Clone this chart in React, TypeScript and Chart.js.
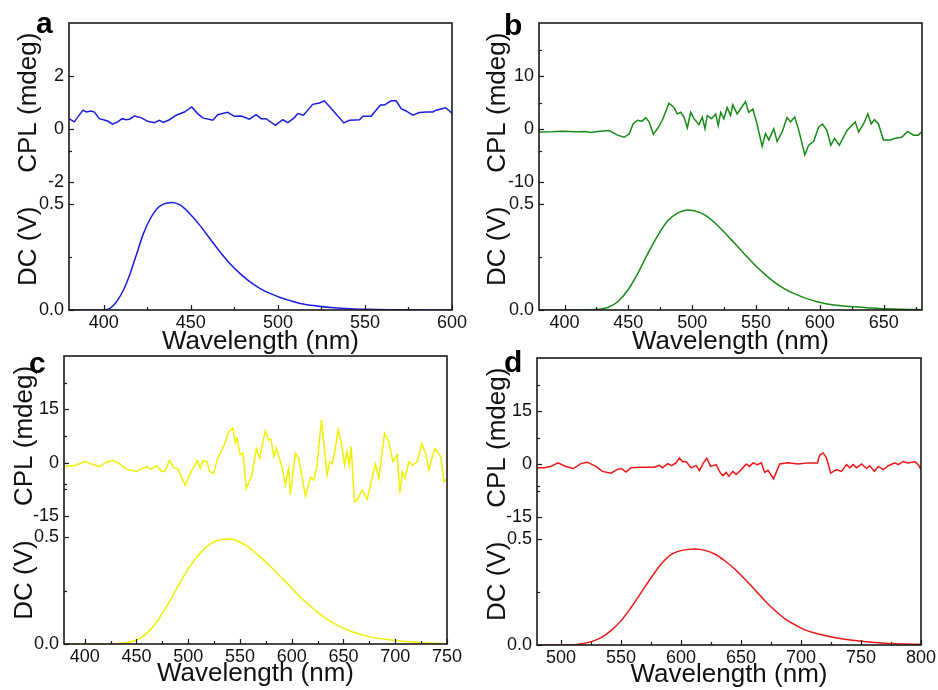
import React, { useEffect, useRef } from 'react';
import { Chart, registerables } from 'chart.js';

Chart.register(...registerables);

type Pt = [number, number];

// ---------- Panel a (blue) ----------
const aCpl: Pt[] = [
  [380, 0.40], [383, 0.28], [388, 0.72], [390, 0.65], [392.6, 0.69], [394.6, 0.65], [397.4, 0.40],
  [402.2, 0.31], [405, 0.19], [408, 0.28], [410.5, 0.40], [412.8, 0.36], [414.7, 0.38], [417.5, 0.50],
  [421.4, 0.44], [425.2, 0.30], [429, 0.25], [431.9, 0.34], [434.2, 0.26], [437.7, 0.36], [441.5, 0.53],
  [446.3, 0.65], [450.5, 0.84], [453.9, 0.59], [456.8, 0.43], [462.6, 0.34], [465.4, 0.55], [471.2, 0.64],
  [475, 0.49], [478.9, 0.50], [483.6, 0.38], [487.5, 0.55], [490.4, 0.40], [493.2, 0.40], [498.6, 0.15],
  [502.8, 0.36], [505.7, 0.25], [509.5, 0.44], [511.4, 0.59], [514.7, 0.53], [520, 0.94], [523.9, 0.99],
  [526.7, 1.07], [531.5, 0.72], [537.9, 0.24], [541.1, 0.34], [546.9, 0.36], [548.8, 0.49], [553.5, 0.49],
  [558.9, 0.91], [561.2, 0.91], [565, 1.07], [567.9, 1.07], [570.8, 0.78], [573.6, 0.69], [577.5, 0.53],
  [581.3, 0.63], [585.2, 0.65], [589, 0.65], [590.9, 0.72], [596.3, 0.81], [598.6, 0.69], [600, 0.59],
];
const aDc: Pt[] = [
  [380, 0], [398, 0], [400.7, 0.001], [403.6, 0.008], [407.4, 0.04], [411.2, 0.093], [415.1, 0.171],
  [418.9, 0.265], [422.7, 0.358], [426.6, 0.428], [430.4, 0.475], [434.2, 0.498], [439, 0.506],
  [443.8, 0.494], [449.5, 0.452], [455.3, 0.397], [461, 0.335], [466.8, 0.273], [472.5, 0.218],
  [478.3, 0.171], [484, 0.132], [489.8, 0.101], [495.5, 0.078], [501.3, 0.059], [507, 0.044],
  [512.8, 0.031], [522.3, 0.019], [531.9, 0.011], [541.5, 0.006], [551, 0.003], [570, 0.0015], [600, 0],
];

// ---------- Panel b (green) ----------
const bCpl: Pt[] = [
  [380, -0.5], [390, -0.45], [398, -0.35], [403.7, -0.4], [408, -0.45], [416.7, -0.4], [420.6, -0.6],
  [425.8, -0.4], [434.9, -0.25], [441.5, -1.1], [446.7, -1.5], [450.6, -0.9], [453.7, 1.0], [457.1, 1.7],
  [460.5, 1.5], [463.6, 2.2], [466.2, 1.4], [469.6, -0.9], [472.7, 0.1], [476.6, 1.7], [481.8, 4.9],
  [485.7, 4.1], [488.3, 2.9], [491, 3.2], [493.6, 2.3], [496.2, 0.3], [498.8, 3.2], [501.4, 2.0],
  [505.3, 0.9], [507.9, 2.3], [510, 0.1], [511.8, 2.6], [515.2, 2.0], [518.4, 2.9], [520.4, 0.7],
  [522.3, 3.2], [524.8, 2.0], [527.4, 4.1], [530, 2.6], [531.8, 4.6], [535.2, 2.9], [538.6, 4.1],
  [541.7, 5.2], [544.3, 3.2], [547.5, 3.8], [550.8, 1.0], [554.8, -3.2], [557.4, -0.8], [560, -2.0],
  [563.9, 0.1], [566.5, -2.3], [570.4, -0.5], [574.3, 2.2], [577, 1.4], [580.3, 2.3], [583.5, -0.2],
  [588.2, -4.8], [591.2, -3.0], [595.1, -2.3], [599, 0.4], [602.1, 1.0], [605.5, -0.2], [608.6, -3.0],
  [611.5, -1.7], [615.2, -3.0], [621.2, -0.2], [627.7, 1.4], [630.3, -0.5], [634.2, 1.0], [637.6, 2.9],
  [640.2, 1.0], [642.8, 1.8], [645.9, 1.0], [649.8, -2.0], [655.1, -2.0], [659, -1.7], [664.1, -1.5],
  [668.8, -0.4], [673.3, -1.1], [677.1, -1.1], [680, -0.4],
];
const bDc: Pt[] = [
  [380, 0], [415, 0], [426, 0.003], [433.9, 0.012], [441.7, 0.039], [449.5, 0.093], [457.3, 0.171],
  [465.2, 0.265], [473, 0.35], [480.8, 0.42], [488.6, 0.456], [496.4, 0.470], [501.6, 0.467],
  [509.4, 0.449], [517.2, 0.413], [525.1, 0.366], [532.9, 0.316], [540.7, 0.265], [548.5, 0.215],
  [556.3, 0.171], [564.1, 0.132], [572, 0.101], [579.7, 0.078], [587.6, 0.058], [598, 0.039],
  [611, 0.023], [624, 0.016], [637, 0.011], [650, 0.006], [663, 0.003], [680, 0.0015],
];

// ---------- Panel c (yellow) ----------
const cCpl: Pt[] = [
  [380, -1.1], [390.6, -0.8], [400.3, 0.3], [406.8, -0.4], [414.2, -1.1], [421.3, 0.2], [427.7, 0.6],
  [434.2, -0.4], [440.6, -1.9], [450.3, -2.5], [455.2, -1.6], [460.6, -1.1], [463.2, -1.8], [469.7, -0.9],
  [474.5, -2.5], [477.7, -2.3], [481.9, 0.6], [485.8, -1.4], [489.7, -1.6], [497.1, -6.3], [503.5, -2.1],
  [509, 0.6], [511.6, -1.6], [514.2, 0.5], [518.1, 0.3], [520.6, -2.5], [524.5, -3.0], [528.4, 1.2],
  [534.2, 4.5], [539, 8.7], [543.2, 9.7], [545.5, 5.6], [547.1, 6.8], [550.3, 2.2], [552.9, 2.6],
  [556.1, -7.2], [561.6, -3.5], [565.8, 4.0], [569, 1.2], [574.5, 9.0], [577.7, 6.4], [580, 6.6],
  [582.6, 1.7], [585.2, 4.0], [590.6, -1.1], [593.9, -6.3], [597.1, -1.6], [598.7, -9.1], [603.5, 2.6],
  [606.8, 1.2], [613.2, -9.4], [618.1, -4.1], [621.3, -4.9], [624.5, -0.7], [628.7, 12.0], [634.2, -3.5],
  [636.8, 0.3], [639, -0.2], [641.3, 2.6], [644.8, 9.2], [648, 5.4], [651, -0.7], [653.5, 3.1],
  [655.5, -0.7], [657.4, 4.5], [660.6, -11.0], [663.2, -10.5], [668, -7.7], [672.9, -10.3], [680.9, -0.4],
  [684.2, -4.4], [689.7, 8.2], [693.9, 5.9], [697.7, 0.3], [701.9, 2.2], [704.5, -8.6], [706.8, -2.5],
  [709.4, -4.4], [713.2, 0.3], [716.5, -0.7], [721.3, 0.3], [725.5, 5.4], [729.4, 2.6], [732.6, -2.1],
  [735.8, 1.7], [738.4, 4.0], [743.9, 1.7], [747.1, -5.3], [750, -4.4],
];
const cDc: Pt[] = [
  [380, 0], [414.8, 0], [440.6, 0.006], [453.5, 0.026], [463.2, 0.065], [472.9, 0.127], [482.6, 0.204],
  [492.3, 0.289], [501.9, 0.366], [511.6, 0.427], [521.3, 0.469], [531, 0.489], [540.6, 0.492],
  [550.3, 0.477], [560, 0.448], [569.7, 0.407], [579.4, 0.363], [589, 0.316], [598.7, 0.269],
  [608.4, 0.219], [618.1, 0.177], [627.7, 0.139], [637.4, 0.106], [647.1, 0.080], [656.8, 0.060],
  [672.9, 0.037], [689, 0.023], [705.2, 0.014], [721.3, 0.008], [737.4, 0.003], [750, 0.0015],
];

// ---------- Panel d (red) ----------
const dCpl: Pt[] = [
  [480, -1.0], [485.9, -1.0], [491.4, -0.6], [497.6, 0.4], [504, -0.6], [510.4, -1.2], [516.5, 0.2],
  [522.1, 0.6], [529, -0.6], [534.6, -2.0], [541.6, -2.5], [546.6, -1.5], [550.5, -1.2], [554.1, -2.2],
  [558.3, -1.0], [566.6, -0.8], [577.8, -0.8], [582, -0.3], [584.7, -1.0], [588.9, 0.2], [592.2, -0.4],
  [595.9, 0.4], [598.7, 1.8], [601.4, 0.7], [604.2, 0.8], [608.4, -1.0], [612.6, -0.3], [615.4, -1.8],
  [618.7, 0.4], [621.5, 1.7], [624.6, -0.6], [629.3, -0.1], [632.9, -2.5], [634.9, -3.2], [637.7, -2.3],
  [639.9, -3.4], [643.2, -2.0], [646, -2.9], [650.2, -1.5], [654.4, 0.1], [657.2, -0.6], [660, 0.4],
  [663.6, -0.1], [667, 0.4], [669.7, -2.3], [672.5, -1.7], [677.2, -4.1], [682.2, 0.1], [689.2, 0.4],
  [697.5, 0.1], [705.9, 0.4], [713.7, 0.4], [715.7, 2.7], [718.5, 3.2], [721.2, 1.8], [724.8, -2.5],
  [729.6, -1.5], [733.8, -2.0], [737.9, -0.1], [740.7, -1.0], [743.5, -0.1], [746.3, -1.0], [750.5, 0.1],
  [754.6, -1.2], [757.4, -0.4], [761.1, -2.0], [764.4, -0.6], [768.6, -1.5], [772.8, -0.4], [778.3, 0.4],
  [781.1, -0.1], [785.3, 0.8], [788.9, 0.4], [795, 0.7], [797.8, -0.1], [800, -1.5],
];
const dDc: Pt[] = [
  [480, 0], [510, 0], [514.3, 0.003], [525.4, 0.016], [533.8, 0.036], [542.1, 0.070], [550.5, 0.117],
  [558.8, 0.180], [567.2, 0.25], [575.5, 0.32], [583.9, 0.383], [592.3, 0.427], [600.6, 0.445],
  [611.8, 0.452], [620.1, 0.445], [628.5, 0.427], [636.8, 0.395], [645.2, 0.355], [653.5, 0.308],
  [661.9, 0.258], [670.3, 0.206], [678.6, 0.161], [687, 0.122], [695.3, 0.094], [703.7, 0.070],
  [714.8, 0.052], [728.7, 0.034], [742.7, 0.022], [756.6, 0.014], [770.5, 0.008], [784.5, 0.005],
  [800, 0.003],
];

// ---------- Axis ticks ----------
const aXMajor = [400, 450, 500, 550, 600];
const aXMinor = [425, 475, 525, 575];
const bXMajor = [400, 450, 500, 550, 600, 650];
const bXMinor = [425, 475, 525, 575, 625, 675];
const cXMajor = [400, 450, 500, 550, 600, 650, 700, 750];
const cXMinor = [425, 475, 525, 575, 625, 675, 725];
const dXMajor = [500, 550, 600, 650, 700, 750, 800];
const dXMinor = [525, 575, 625, 675, 725, 775];

const aCplMajor = [-2, 0, 2];
const aCplMinor: number[] = [];
const bCplMajor = [-10, 0, 10];
const bCplMinor = [15, 5];
const cCplMajor = [-15, 0, 15];
const cCplMinor = [22.5, 7.5, -7.5];
const dCplMajor = [-15, 0, 15];
const dCplMinor = [22.5, 7.5, -7.5];

const dcMajor = [0, 0.5];
const dcMinor = [0.25, 0.75];

const FONT = '"Liberation Sans", Arial, Helvetica, sans-serif';
const TEXT = '#111111';

interface PanelSpec {
  letter: string;
  color: string;
  cpl: Pt[];
  dc: Pt[];
  xMin: number;
  xMax: number;
  xMajor: number[];
  xMinor: number[];
  cplMin: number;
  cplMax: number;
  cplMajor: number[];
  cplMinor: number[];
  left: number;
  top: number;
  width: number;
  height: number;
  padTop: number;
  padRight: number;
  yWidth: number;
  xHeight: number;
  yTitlePad: number;
  xTitlePad: number;
  letterLeft: number;
  letterTop: number;
}

const panels: PanelSpec[] = [
  {
    letter: 'a', color: '#1c1ce0', cpl: aCpl, dc: aDc, xMin: 380, xMax: 600, xMajor: aXMajor, xMinor: aXMinor,
    cplMin: -2, cplMax: 4, cplMajor: aCplMajor, cplMinor: aCplMinor,
    left: 0, top: 0, width: 469, height: 360, padTop: 23, padRight: 16, yWidth: 69, xHeight: 50,
    yTitlePad: 13, xTitlePad: 3, letterLeft: 36, letterTop: 8,
  },
  {
    letter: 'b', color: '#178a17', cpl: bCpl, dc: bDc, xMin: 380, xMax: 680, xMajor: bXMajor, xMinor: bXMinor,
    cplMin: -10, cplMax: 20, cplMajor: bCplMajor, cplMinor: bCplMinor,
    left: 469, top: 0, width: 469, height: 360, padTop: 23, padRight: 16, yWidth: 70, xHeight: 50,
    yTitlePad: 13, xTitlePad: 3, letterLeft: 504, letterTop: 10,
  },
  {
    letter: 'c', color: '#f0f000', cpl: cCpl, dc: cDc, xMin: 380, xMax: 750, xMajor: cXMajor, xMinor: cXMinor,
    cplMin: -15, cplMax: 30, cplMajor: cCplMajor, cplMinor: cCplMinor,
    left: 0, top: 340, width: 469, height: 350, padTop: 16, padRight: 22, yWidth: 64, xHeight: 46,
    yTitlePad: 9, xTitlePad: 1, letterLeft: 29, letterTop: 348,
  },
  {
    letter: 'd', color: '#ec1616', cpl: dCpl, dc: dDc, xMin: 480, xMax: 800, xMajor: dXMajor, xMinor: dXMinor,
    cplMin: -15, cplMax: 30, cplMajor: dCplMajor, cplMinor: dCplMinor,
    left: 469, top: 340, width: 469, height: 350, padTop: 18, padRight: 17, yWidth: 68, xHeight: 45,
    yTitlePad: 13, xTitlePad: 0, letterLeft: 504, letterTop: 347,
  },
];

const frameTicks = {
  id: 'frameTicks',
  afterDraw(chart: any, _args: any, opts: any) {
    const { ctx, chartArea } = chart;
    const { left, right, top, bottom } = chartArea;
    ctx.save();
    ctx.strokeStyle = '#1a1a1a';
    ctx.lineWidth = 1.2;
    const yTicks = (scaleId: string, vals: number[], len: number) => {
      const s = chart.scales[scaleId];
      vals.forEach((v) => {
        const p = Math.round(s.getPixelForValue(v)) + 0.5;
        ctx.beginPath();
        ctx.moveTo(left, p);
        ctx.lineTo(left + len, p);
        ctx.stroke();
      });
    };
    yTicks('cpl', opts.cplMajor, 5);
    yTicks('cpl', opts.cplMinor, 3);
    yTicks('dc', opts.dcMajor, 5);
    yTicks('dc', opts.dcMinor, 3);
    const xs = chart.scales.x;
    const xt = (vals: number[], len: number) => {
      vals.forEach((v) => {
        const p = Math.round(xs.getPixelForValue(v)) + 0.5;
        ctx.beginPath();
        ctx.moveTo(p, bottom);
        ctx.lineTo(p, bottom - len);
        ctx.stroke();
      });
    };
    xt(opts.xMajor, 5);
    xt(opts.xMinor, 3);
    ctx.lineWidth = 1.6;
    ctx.strokeStyle = '#1a1a1a';
    ctx.strokeRect(left, top, right - left, bottom - top);
    ctx.restore();
  },
};

function Panel({ spec }: { spec: PanelSpec }) {
  const ref = useRef<HTMLCanvasElement | null>(null);
  useEffect(() => {
    if (!ref.current) return;
    const tickFont = { family: FONT, size: 18 };
    const titleFont = { family: FONT, size: 26 };
    const chart = new Chart(ref.current, {
      type: 'line',
      data: {
        datasets: [
          {
            data: spec.cpl.map(([x, y]) => ({ x, y })),
            yAxisID: 'cpl',
            borderColor: spec.color,
            borderWidth: 1.5,
            pointRadius: 0,
            tension: 0,
            fill: false,
          },
          {
            data: spec.dc.map(([x, y]) => ({ x, y })),
            yAxisID: 'dc',
            borderColor: spec.color,
            borderWidth: 1.5,
            pointRadius: 0,
            cubicInterpolationMode: 'monotone',
            fill: false,
          },
        ],
      },
      options: {
        animation: false,
        responsive: false,
        maintainAspectRatio: false,
        events: [],
        layout: { padding: { top: spec.padTop, right: spec.padRight, left: 0, bottom: 0 } },
        plugins: {
          legend: { display: false },
          tooltip: { enabled: false },
          frameTicks: {
            xMajor: spec.xMajor,
            xMinor: spec.xMinor,
            cplMajor: spec.cplMajor,
            cplMinor: spec.cplMinor,
            dcMajor,
            dcMinor,
          },
        } as any,
        scales: {
          x: {
            type: 'linear',
            position: 'bottom',
            min: spec.xMin,
            max: spec.xMax,
            grid: { display: false, drawTicks: false },
            border: { display: false },
            afterBuildTicks: (s: any) => {
              s.ticks = spec.xMajor.map((v) => ({ value: v }));
            },
            afterFit: (s: any) => {
              s.height = spec.xHeight;
            },
            ticks: {
              font: tickFont,
              color: TEXT,
              padding: 2,
              maxRotation: 0,
              autoSkip: false,
              callback: (v: any) => String(v),
            },
            title: {
              display: true,
              text: 'Wavelength (nm)',
              font: titleFont,
              color: TEXT,
              padding: { top: 0, bottom: spec.xTitlePad },
            },
          },
          cpl: {
            type: 'linear',
            position: 'left',
            stack: 'panel',
            stackWeight: 5,
            weight: 1,
            min: spec.cplMin,
            max: spec.cplMax,
            grid: { display: false, drawTicks: false },
            border: { display: false },
            afterBuildTicks: (s: any) => {
              s.ticks = spec.cplMajor.map((v) => ({ value: v }));
            },
            afterFit: (s: any) => {
              s.width = spec.yWidth;
            },
            ticks: {
              font: tickFont,
              color: TEXT,
              padding: 5,
              autoSkip: false,
              callback: (v: any) => String(v),
            },
            title: {
              display: true,
              text: 'CPL (mdeg)',
              font: titleFont,
              color: TEXT,
              padding: { top: spec.yTitlePad, bottom: 0 },
            },
          },
          dc: {
            type: 'linear',
            position: 'left',
            stack: 'panel',
            stackWeight: 4,
            weight: 0,
            min: 0,
            max: 0.6,
            grid: { display: false, drawTicks: false },
            border: { display: false },
            afterBuildTicks: (s: any) => {
              s.ticks = dcMajor.map((v) => ({ value: v }));
            },
            afterFit: (s: any) => {
              s.width = spec.yWidth;
            },
            ticks: {
              font: tickFont,
              color: TEXT,
              padding: 5,
              autoSkip: false,
              callback: (v: any) => Number(v).toFixed(1),
            },
            title: {
              display: true,
              text: 'DC (V)',
              font: titleFont,
              color: TEXT,
              padding: { top: spec.yTitlePad, bottom: 0 },
            },
          },
        } as any,
      },
      plugins: [frameTicks as any],
    } as any);
    return () => chart.destroy();
  }, [spec]);

  return (
    <>
      <div
        style={{
          position: 'absolute',
          left: spec.left,
          top: spec.top,
          width: spec.width,
          height: spec.height,
        }}
      >
        <canvas ref={ref} width={spec.width} height={spec.height} style={{ display: 'block' }} />
      </div>
      <div
        style={{
          position: 'absolute',
          left: spec.letterLeft,
          top: spec.letterTop,
          fontFamily: FONT,
          fontWeight: 'bold',
          fontSize: 30,
          lineHeight: '30px',
          color: '#000',
        }}
      >
        {spec.letter}
      </div>
    </>
  );
}

export default function App() {
  return (
    <div style={{ position: 'absolute', left: 0, top: 0, width: 938, height: 690, background: '#fff' }}>
      {panels.map((p) => (
        <Panel key={p.letter} spec={p} />
      ))}
    </div>
  );
}
